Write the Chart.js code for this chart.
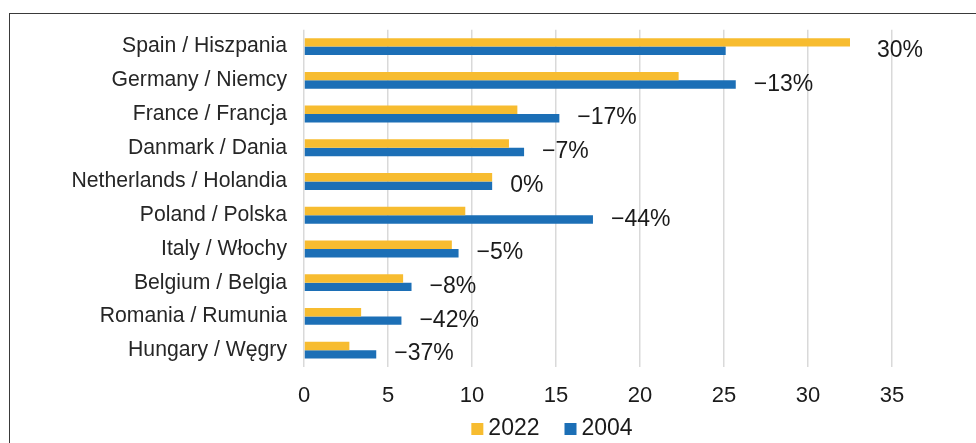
<!DOCTYPE html>
<html>
<head>
<meta charset="utf-8">
<script src="https://cdn.jsdelivr.net/npm/chart.js@4"></script>
<style>
  html, body { margin: 0; padding: 0; background: #ffffff; overflow: hidden; }
  #wrap { position: relative; width: 976px; height: 443px; }
  #frame { position: absolute; left: 9px; top: 13px; width: 1000px; height: 500px;
           border-left: 1px solid #3a3a3a; border-top: 1px solid #3a3a3a; box-sizing: border-box; }
  canvas { position: absolute; left: 0; top: 0; }
</style>
</head>
<body>
<div id="wrap">
  <div id="frame"></div>
  <canvas id="c" width="976" height="443"></canvas>
</div>
<script>
const categories = [
  "Spain / Hiszpania",
  "Germany / Niemcy",
  "France / Francja",
  "Danmark / Dania",
  "Netherlands / Holandia",
  "Poland / Polska",
  "Italy / Włochy",
  "Belgium / Belgia",
  "Romania / Rumunia",
  "Hungary / Węgry"
];
const values2022 = [32.5, 22.3, 12.7, 12.2, 11.2, 9.6, 8.8, 5.9, 3.4, 2.7];
const values2004 = [25.1, 25.7, 15.2, 13.1, 11.2, 17.2, 9.2, 6.4, 5.8, 4.3];
const changeLabels = ["30%", "\u221213%", "\u221217%", "\u22127%", "0%", "\u221244%", "\u22125%", "\u22128%", "\u221242%", "\u221237%"];
const xTicks = [0, 5, 10, 15, 20, 25, 30, 35];

const FONT = "'Liberation Sans', Arial, sans-serif";

const changePlugin = {
  id: 'changeLabels',
  afterDatasetsDraw(chart) {
    const ctx = chart.ctx;
    const xs = chart.scales.x, ys = chart.scales.y;
    ctx.save();
    ctx.font = "23px " + FONT;
    ctx.fillStyle = "#1a1a1a";
    ctx.textAlign = "left";
    ctx.textBaseline = "middle";
    changeLabels.forEach((t, i) => {
      const m = Math.max(values2022[i], values2004[i]);
      const gap = values2022[i] > values2004[i] ? 27 : 18;
      const x = xs.getPixelForValue(m) + gap;
      const y = ys.getPixelForValue(i) + 4;
      ctx.fillText(t, x, y);
    });
    ctx.restore();
  }
};

const legendPlugin = {
  id: 'customLegend',
  afterDraw(chart) {
    const ctx = chart.ctx;
    const area = chart.chartArea;
    ctx.save();
    ctx.font = "23px " + FONT;
    ctx.textBaseline = "middle";
    ctx.textAlign = "left";
    const box = 12, gapBoxText = 5, gapItems = 25;
    const items = chart.data.datasets.map(d => ({ label: d.label, color: d.backgroundColor }));
    let total = 0;
    items.forEach((it, i) => {
      it.w = ctx.measureText(it.label).width;
      total += box + gapBoxText + it.w + (i < items.length - 1 ? gapItems : 0);
    });
    const cx = (area.left + area.right) / 2 - 46;
    let x = cx - total / 2;
    const y = 429;
    items.forEach(it => {
      ctx.fillStyle = it.color;
      ctx.fillRect(x, y - box / 2, box, box);
      x += box + gapBoxText;
      ctx.fillStyle = "#1a1a1a";
      ctx.fillText(it.label, x, y);
      x += it.w + gapItems;
    });
    ctx.restore();
  }
};

new Chart(document.getElementById('c'), {
  type: 'bar',
  data: {
    labels: categories,
    datasets: [
      { label: "2022", data: values2022, backgroundColor: "#F7BC30", borderWidth: 0,
        categoryPercentage: 0.5, barPercentage: 1.0 },
      { label: "2004", data: values2004, backgroundColor: "#1C6FB6", borderWidth: 0,
        categoryPercentage: 0.5, barPercentage: 1.0 }
    ]
  },
  options: {
    indexAxis: 'y',
    responsive: false,
    animation: false,
    events: [],
    layout: { padding: { left: 10, right: 84, top: 29, bottom: 0 } },
    plugins: {
      legend: { display: false },
      tooltip: { enabled: false },
      title: { display: false }
    },
    scales: {
      x: {
        min: 0, max: 35,
        afterBuildTicks(scale) { scale.ticks = xTicks.map(v => ({ value: v })); },
        afterFit(scale) { scale.height = 76; },
        grid: { color: "#D9D9D9", lineWidth: 1.5, drawTicks: false },
        border: { display: false },
        ticks: { padding: 16, color: "#1a1a1a", font: { family: FONT, size: 22 } }
      },
      y: {
        afterFit(scale) { scale.width = 294; },
        grid: { display: false, drawTicks: false },
        border: { display: false },
        ticks: { padding: 17, color: "#262626", font: { family: FONT, size: 21.2 } }
      }
    }
  },
  plugins: [changePlugin, legendPlugin]
});
</script>
</body>
</html>
